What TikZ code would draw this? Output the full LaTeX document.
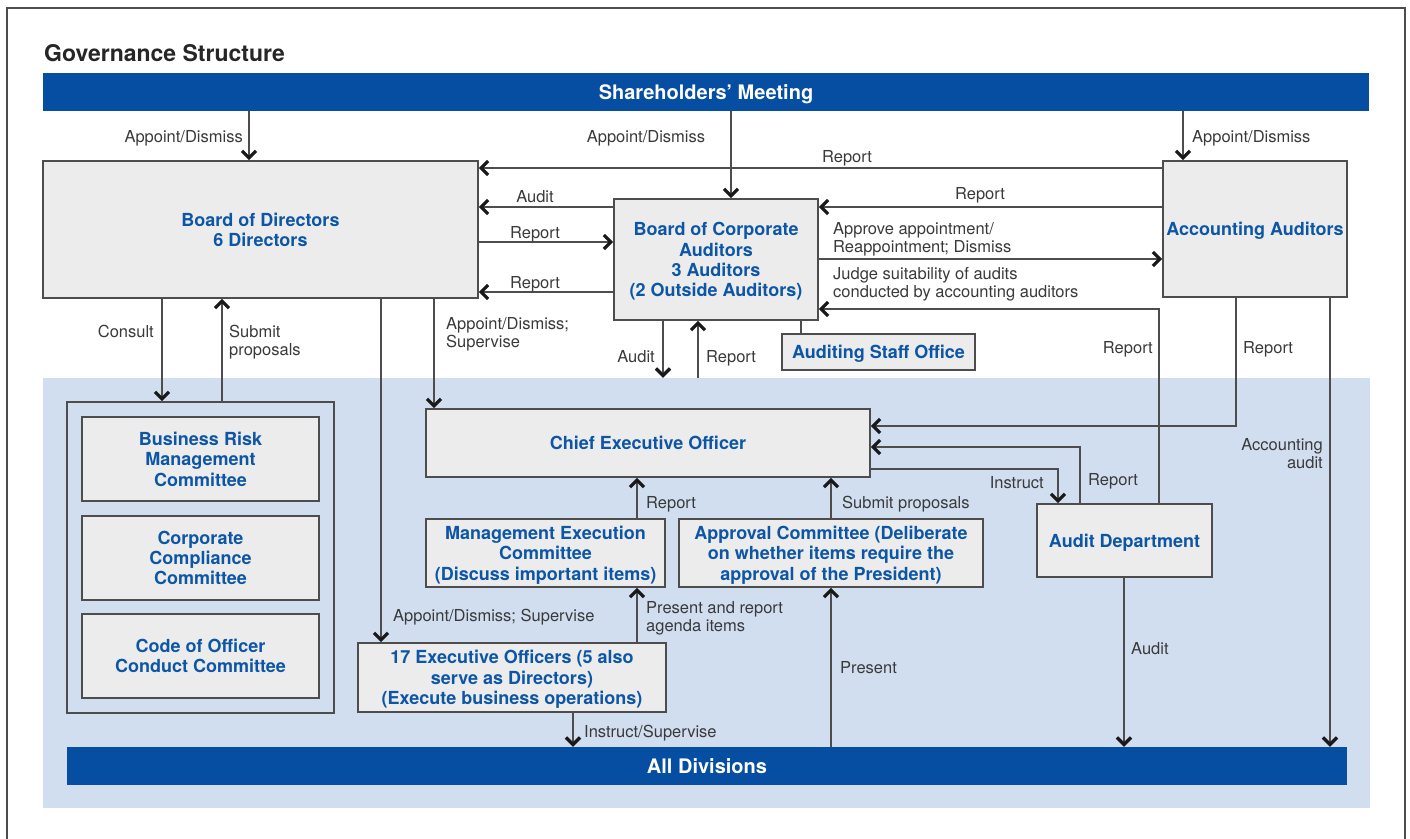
\documentclass[tikz,border=0pt]{standalone}
\usepackage{fontspec}
\usepackage{xcolor}
\usepackage{tikz}
\usetikzlibrary{arrows.meta}
\setmainfont{TeX Gyre Heros}

\definecolor{barblue}{HTML}{054EA1}
\definecolor{regionblue}{HTML}{D1DEF0}
\definecolor{boxgray}{HTML}{ECECEC}
\definecolor{boxtext}{HTML}{0D56A6}
\definecolor{lblgray}{HTML}{3A3A3A}
\definecolor{linegray}{HTML}{4D4D4D}

\tikzset{
	box/.style={draw=linegray, line width=1.6pt, fill=boxgray, text=boxtext, align=center, inner sep=0pt, text depth=0pt, font=\fontsize{18}{20.3}\selectfont\bfseries},
	bar/.style={fill=barblue, text=white, inner sep=0pt, text depth=0pt, font=\fontsize{20}{24}\selectfont\bfseries},
	lbl/.style={text=lblgray, inner sep=0pt, text depth=0pt, font=\fontsize{16.5}{18}\selectfont},
	link/.style={draw=linegray, line width=1.3pt},
	arr/.style={link, -{Straight Barb[length=7pt, width=14pt, line width=3.3pt, color=black!90]}}
}

\begin{document}
\begin{tikzpicture}[x=1pt, y=-1pt]
	\useasboundingbox (0,0) rectangle (1410,838);
	\draw[linegray, line width=1.5pt] (7,8) rectangle (1405,860);
	\node[anchor=west, inner sep=0pt, text depth=0pt, text=black!85, font=\fontsize{23}{26}\selectfont\bfseries] (title) at (44,53) {Governance Structure};
	\node[fill=regionblue, inner sep=0pt, minimum width=1327pt, minimum height=430pt] (reg) at (706.5,593) {};

	% top row
	\node[bar, minimum width=1326pt, minimum height=38pt] (sm) at (706,92) {Shareholders’ Meeting};
	\node[box, minimum width=435pt, minimum height=137pt] (bod) at (260.5,229.5) {Board of Directors\\6 Directors};
	\node[box, minimum width=204pt, minimum height=121pt] (bca) at (716,259.5) {Board of Corporate\\Auditors\\3 Auditors\\(2 Outside Auditors)};
	\node[box, minimum width=184pt, minimum height=136pt] (aa) at (1255,229) {Accounting Auditors};
	\node[box, minimum width=193pt, minimum height=36pt] (aso) at (878.5,352) {Auditing Staff Office};

	% executive side
	\node[draw=linegray, line width=1.6pt, inner sep=0pt, minimum width=267pt, minimum height=311pt] (grp) at (200.5,557.5) {};
	\node[box, minimum width=237pt, minimum height=84pt] (brm) at (200.5,459) {Business Risk\\Management\\Committee};
	\node[box, minimum width=237pt, minimum height=84pt] (ccc) at (200.5,558) {Corporate\\Compliance\\Committee};
	\node[box, minimum width=237pt, minimum height=84pt] (coc) at (200.5,656) {Code of Officer\\Conduct Committee};
	\node[box, minimum width=444pt, minimum height=68pt] (ceo) at (648,443) {Chief Executive Officer};
	\node[box, minimum width=239pt, minimum height=68pt] (mec) at (545.5,553) {Management Execution\\Committee\\(Discuss important items)};
	\node[box, minimum width=304pt, minimum height=68pt] (apc) at (831,553) {Approval Committee (Deliberate\\on whether items require the\\approval of the President)};
	\node[box, minimum width=175pt, minimum height=73pt] (ado) at (1124.5,540.5) {Audit Department};
	\node[box, minimum width=308pt, minimum height=69pt] (exo) at (512,677.5) {17 Executive Officers (5 also\\serve as Directors)\\(Execute business operations)};
	\node[bar, minimum width=1280pt, minimum height=38pt] (div) at (707,766) {All Divisions};

	% shareholders
	\draw[arr] (sm.south -| 249,0) -- (bod.north -| 249,0);
	\node[lbl, anchor=east] (lbodapp) at (243,136) {Appoint/Dismiss};
	\draw[arr] (sm.south -| 731,0) -- (bca.north -| 731,0);
	\node[lbl] (lbcaapp) at (646,136) {Appoint/Dismiss};
	\draw[arr] (sm.south -| 1183,0) -- (aa.north -| 1183,0);
	\node[lbl, anchor=west] (laaapp) at (1192,136) {Appoint/Dismiss};

	% board, auditors
	\draw[arr] (aa.west |- 0,168) -- (bod.east |- 0,168);
	\node[lbl] (laarep1) at (847,156) {Report};
	\draw[arr] (bca.west |- 0,207) -- (bod.east |- 0,207);
	\node[lbl] (lbcaaud) at (535,196) {Audit};
	\draw[arr] (bod.east |- 0,242) -- (bca.west |- 0,242);
	\node[lbl] (lbodrep) at (535,232) {Report};
	\draw[arr] (bca.west |- 0,292) -- (bod.east |- 0,292);
	\node[lbl] (lbcarep) at (535,282) {Report};
	\draw[arr] (aa.west |- 0,207) -- (bca.east |- 0,207);
	\node[lbl] (laarep2) at (980,193) {Report};
	\draw[arr] (bca.east |- 0,259) -- (aa.west |- 0,259);
	\node[lbl, anchor=west, align=left] (lappr) at (833,237) {Approve appointment/\\Reappointment; Dismiss};
	\node[lbl, anchor=west, align=left] (ljudge) at (833,282) {Judge suitability of audits\\conducted by accounting auditors};
	\draw[arr] (ado.north -| 1159,0) |- (bca.east |- 0,309);
	\node[lbl, anchor=east] (ladorep1) at (1153,347) {Report};
	\draw[link] (bca.south -| 801,0) -- (aso.north -| 801,0);
	\draw[arr] (bca.south -| 663,0) -- (reg.north -| 663,0);
	\node[lbl, anchor=east] (lbcaaud2) at (655,356) {Audit};
	\draw[arr] (reg.north -| 698,0) -- (bca.south -| 698,0);
	\node[lbl, anchor=west] (lcsorep) at (706,356) {Report};

	% board down
	\draw[arr] (bod.south -| 162,0) -- (grp.north -| 162,0);
	\node[lbl, anchor=east] (lcons) at (154,331) {Consult};
	\draw[arr] (grp.north -| 222,0) -- (bod.south -| 222,0);
	\node[lbl, anchor=west, align=left] (lsubm) at (229,340) {Submit\\proposals};
	\draw[arr] (bod.south -| 381,0) -- (exo.north -| 381,0);
	\node[lbl, anchor=west] (lexoapp) at (393,615) {Appoint/Dismiss; Supervise};
	\draw[arr] (bod.south -| 434,0) -- (ceo.north -| 434,0);
	\node[lbl, anchor=west, align=left] (lceoapp) at (446,332) {Appoint/Dismiss;\\Supervise};

	% right side
	\draw[arr] (aa.south -| 1236,0) |- (ceo.east |- 0,426);
	\node[lbl, anchor=west] (laarep3) at (1243,347) {Report};
	\draw[arr] (ado.north -| 1080,0) |- (ceo.east |- 0,447);
	\node[lbl, anchor=west] (ladorep2) at (1088,479) {Report};
	\draw[arr] (ceo.east |- 0,469) -| (ado.north -| 1058,0);
	\node[lbl, anchor=east] (linstr) at (1044,482) {Instruct};
	\draw[arr] (aa.south -| 1330,0) -- (div.north -| 1330,0);
	\node[lbl, anchor=east, align=right] (laccaud) at (1323,453) {Accounting\\audit};
	\draw[arr] (ado.south -| 1124,0) -- (div.north -| 1124,0);
	\node[lbl, anchor=west] (ladoaud) at (1131,648) {Audit};

	% executive
	\draw[arr] (mec.north -| 637,0) -- (ceo.south -| 637,0);
	\node[lbl, anchor=west] (lmecrep) at (646,502) {Report};
	\draw[arr] (apc.north -| 831,0) -- (ceo.south -| 831,0);
	\node[lbl, anchor=west] (lapcsub) at (842,502) {Submit proposals};
	\draw[arr] (exo.north -| 637,0) -- (mec.south -| 637,0);
	\node[lbl, anchor=west, align=left] (lexopres) at (646,616) {Present and report\\agenda items};
	\draw[arr] (div.north -| 831,0) -- (apc.south -| 831,0);
	\node[lbl, anchor=west] (ldivpres) at (840,667) {Present};
	\draw[arr] (exo.south -| 573,0) -- (div.north -| 573,0);
	\node[lbl, anchor=west] (lexoinst) at (584,731) {Instruct/Supervise};
\end{tikzpicture}
\end{document}
